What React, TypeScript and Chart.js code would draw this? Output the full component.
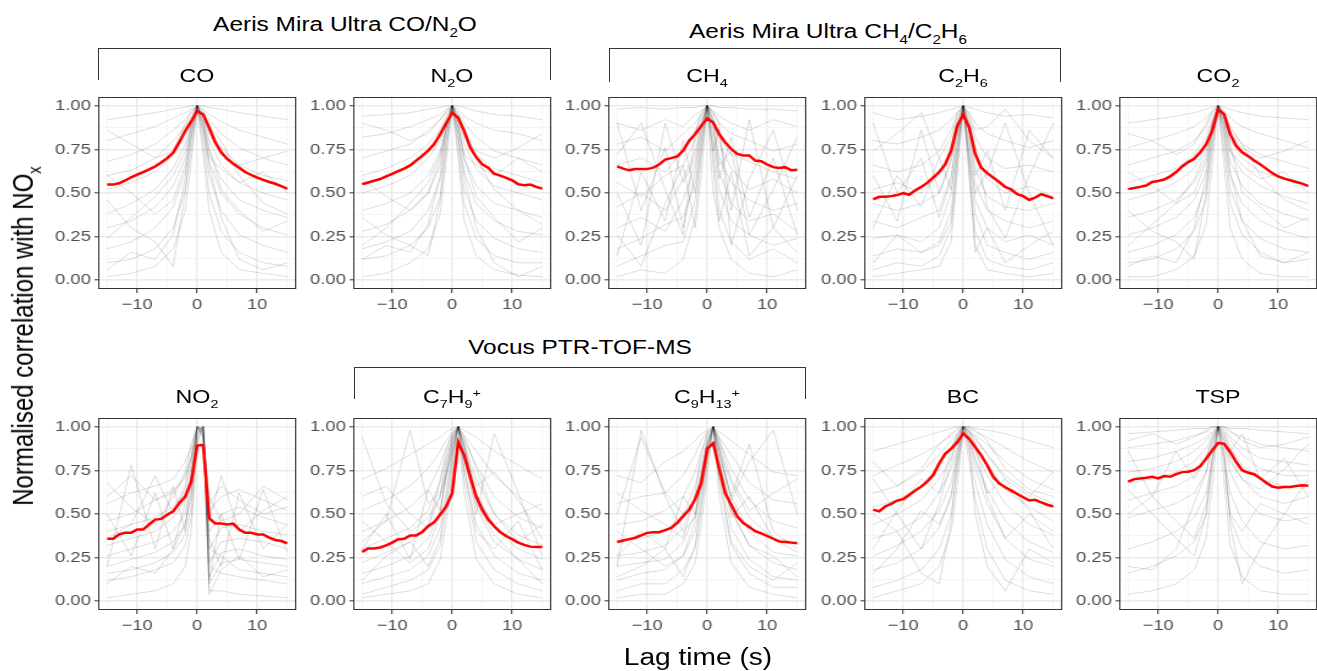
import React, { useEffect, useRef } from "react";
import { Chart, registerables } from "chart.js";

Chart.register(...registerables);
Chart.defaults.font.family = "'Liberation Sans', Arial, Helvetica, sans-serif";

// ---------- data ----------
const LAGS = [-15, -14, -13, -12, -11, -10, -9, -8, -7, -6, -5, -4, -3, -2, -1, 0, 1, 2, 3, 4, 5, 6, 7, 8, 9, 10, 11, 12, 13, 14, 15];
const GRAY_LAGS = [-15, -11, -7, -4, -2, -1, 0, 1, 2, 4, 7, 11, 15];
const X_TICKS = [-15, -10, -5, 0, 5, 10, 15];
const X_LABELED = [-10, 0, 10];
const Y_TICKS = [0, 0.125, 0.25, 0.375, 0.5, 0.625, 0.75, 0.875, 1];
const Y_LABELED = [0, 0.25, 0.5, 0.75, 1];

const PANEL_LABELS = ["CO", "N_{2}O", "CH_{4}", "C_{2}H_{6}", "CO_{2}", "NO_{2}", "C_{7}H_{9}^{+}", "C_{9}H_{13}^{+}", "BC", "TSP"];
const GROUP_LABELS = ["Aeris Mira Ultra CO/N_{2}O", "Aeris Mira Ultra CH_{4}/C_{2}H_{6}", "Vocus PTR-TOF-MS"];
const Y_TITLE = "Normalised correlation with NO_{x}";
const X_TITLE = "Lag time (s)";

const CO_MEAN = [0.548, 0.548, 0.556, 0.572, 0.59, 0.605, 0.62, 0.635, 0.652, 0.675, 0.7, 0.73, 0.79, 0.855, 0.91, 0.97, 0.95, 0.875, 0.79, 0.733, 0.695, 0.667, 0.645, 0.62, 0.603, 0.588, 0.575, 0.563, 0.553, 0.54, 0.524];
const N2O_MEAN = [0.55, 0.56, 0.57, 0.58, 0.595, 0.61, 0.625, 0.64, 0.658, 0.686, 0.713, 0.743, 0.78, 0.837, 0.9, 0.96, 0.93, 0.856, 0.76, 0.705, 0.664, 0.645, 0.61, 0.6, 0.586, 0.573, 0.55, 0.545, 0.548, 0.535, 0.525];
const CH4_MEAN = [0.652, 0.64, 0.63, 0.637, 0.637, 0.637, 0.645, 0.663, 0.692, 0.7, 0.709, 0.743, 0.8, 0.837, 0.885, 0.928, 0.904, 0.837, 0.79, 0.752, 0.724, 0.715, 0.715, 0.686, 0.682, 0.663, 0.648, 0.643, 0.648, 0.63, 0.633];
const C2H6_MEAN = [0.463, 0.478, 0.478, 0.482, 0.488, 0.5, 0.49, 0.515, 0.535, 0.558, 0.588, 0.62, 0.664, 0.743, 0.885, 0.95, 0.875, 0.724, 0.645, 0.614, 0.588, 0.563, 0.535, 0.52, 0.493, 0.482, 0.46, 0.474, 0.493, 0.482, 0.469];
const CO2_MEAN = [0.522, 0.529, 0.535, 0.543, 0.563, 0.569, 0.577, 0.595, 0.62, 0.652, 0.677, 0.696, 0.733, 0.78, 0.856, 0.98, 0.95, 0.837, 0.77, 0.733, 0.711, 0.686, 0.664, 0.64, 0.614, 0.595, 0.582, 0.573, 0.563, 0.554, 0.54];
const NO2_MEAN = [0.358, 0.358, 0.383, 0.392, 0.392, 0.411, 0.411, 0.44, 0.468, 0.472, 0.496, 0.515, 0.562, 0.6, 0.685, 0.892, 0.896, 0.477, 0.445, 0.445, 0.44, 0.445, 0.411, 0.392, 0.392, 0.383, 0.383, 0.364, 0.351, 0.345, 0.332];
const C7H9_MEAN = [0.283, 0.302, 0.302, 0.308, 0.32, 0.336, 0.355, 0.358, 0.377, 0.377, 0.396, 0.43, 0.453, 0.496, 0.543, 0.619, 0.911, 0.836, 0.713, 0.6, 0.525, 0.468, 0.43, 0.396, 0.374, 0.355, 0.336, 0.323, 0.313, 0.311, 0.311];
const C9H13_MEAN = [0.34, 0.348, 0.356, 0.364, 0.378, 0.392, 0.396, 0.396, 0.408, 0.42, 0.449, 0.487, 0.525, 0.585, 0.675, 0.874, 0.906, 0.76, 0.619, 0.553, 0.487, 0.449, 0.426, 0.402, 0.389, 0.374, 0.358, 0.342, 0.34, 0.336, 0.332];
const BC_MEAN = [0.525, 0.515, 0.543, 0.558, 0.577, 0.585, 0.609, 0.634, 0.657, 0.685, 0.723, 0.789, 0.845, 0.874, 0.911, 0.962, 0.93, 0.883, 0.836, 0.779, 0.713, 0.675, 0.653, 0.634, 0.615, 0.596, 0.577, 0.581, 0.566, 0.553, 0.543];
const TSP_MEAN = [0.685, 0.7, 0.704, 0.708, 0.713, 0.704, 0.717, 0.713, 0.728, 0.74, 0.742, 0.751, 0.774, 0.817, 0.864, 0.908, 0.902, 0.855, 0.798, 0.751, 0.736, 0.728, 0.704, 0.679, 0.657, 0.651, 0.655, 0.655, 0.66, 0.664, 0.662];

const CO_LINES = [
  [0.92, 0.94, 0.96, 0.98, 0.99, 1, 1, 1, 0.99, 0.98, 0.96, 0.94, 0.92],
  [0.8, 0.84, 0.88, 0.93, 0.96, 0.98, 1, 0.98, 0.95, 0.91, 0.86, 0.82, 0.78],
  [0.68, 0.72, 0.78, 0.86, 0.92, 0.96, 1, 0.97, 0.92, 0.84, 0.76, 0.7, 0.66],
  [0.6, 0.63, 0.7, 0.8, 0.88, 0.94, 1, 0.95, 0.86, 0.76, 0.66, 0.6, 0.57],
  [0.52, 0.56, 0.62, 0.72, 0.84, 0.92, 1, 0.93, 0.8, 0.66, 0.56, 0.5, 0.46],
  [0.38, 0.44, 0.52, 0.64, 0.78, 0.9, 1, 0.9, 0.74, 0.58, 0.46, 0.4, 0.36],
  [0.3, 0.34, 0.42, 0.54, 0.7, 0.86, 1, 0.88, 0.68, 0.5, 0.38, 0.3, 0.26],
  [0.18, 0.22, 0.3, 0.42, 0.62, 0.8, 1, 0.84, 0.6, 0.4, 0.26, 0.2, 0.16],
  [0.1, 0.12, 0.18, 0.3, 0.52, 0.74, 1, 0.78, 0.5, 0.28, 0.16, 0.1, 0.08],
  [0.02, 0.04, 0.08, 0.18, 0.4, 0.68, 1, 0.72, 0.4, 0.16, 0.06, 0.04, 0.02],
  [0.46, 0.3, 0.22, 0.08, 0.5, 0.82, 1, 0.9, 0.7, 0.64, 0.56, 0.62, 0.5],
  [0.86, 0.78, 0.7, 0.74, 0.9, 0.97, 1, 0.96, 0.88, 0.8, 0.6, 0.44, 0.38],
  [0.24, 0.36, 0.48, 0.6, 0.74, 0.88, 1, 0.94, 0.84, 0.72, 0.66, 0.7, 0.74],
  [0.6, 0.5, 0.38, 0.46, 0.66, 0.84, 1, 0.86, 0.66, 0.36, 0.12, 0.06, 0.1],
  [0.06, 0.16, 0.12, 0.26, 0.58, 0.9, 1, 0.92, 0.76, 0.52, 0.4, 0.28, 0.34],
];
const N2O_LINES = [
  [0.94, 0.95, 0.96, 0.98, 0.99, 1, 1, 1, 0.99, 0.97, 0.95, 0.94, 0.92],
  [0.82, 0.84, 0.88, 0.92, 0.95, 0.98, 1, 0.98, 0.94, 0.9, 0.86, 0.84, 0.8],
  [0.7, 0.74, 0.78, 0.86, 0.92, 0.96, 1, 0.96, 0.9, 0.82, 0.74, 0.7, 0.66],
  [0.6, 0.64, 0.7, 0.78, 0.86, 0.94, 1, 0.94, 0.84, 0.72, 0.64, 0.6, 0.56],
  [0.5, 0.54, 0.6, 0.7, 0.8, 0.92, 1, 0.92, 0.78, 0.64, 0.54, 0.5, 0.46],
  [0.4, 0.44, 0.5, 0.6, 0.74, 0.88, 1, 0.88, 0.7, 0.54, 0.44, 0.4, 0.36],
  [0.28, 0.32, 0.4, 0.5, 0.66, 0.84, 1, 0.84, 0.62, 0.44, 0.34, 0.28, 0.26],
  [0.18, 0.22, 0.28, 0.4, 0.58, 0.8, 1, 0.8, 0.52, 0.34, 0.24, 0.18, 0.16],
  [0.12, 0.14, 0.2, 0.3, 0.48, 0.74, 1, 0.76, 0.44, 0.24, 0.14, 0.1, 0.1],
  [0.02, 0.04, 0.1, 0.18, 0.38, 0.68, 1, 0.7, 0.34, 0.14, 0.06, 0.03, 0.02],
  [0.36, 0.26, 0.2, 0.14, 0.46, 0.8, 1, 0.88, 0.72, 0.66, 0.6, 0.7, 0.62],
  [0.9, 0.86, 0.8, 0.84, 0.92, 0.97, 1, 0.95, 0.86, 0.7, 0.52, 0.4, 0.32],
  [0.2, 0.3, 0.44, 0.56, 0.72, 0.88, 1, 0.92, 0.82, 0.74, 0.7, 0.76, 0.84],
  [0.58, 0.48, 0.4, 0.5, 0.7, 0.86, 1, 0.84, 0.6, 0.3, 0.1, 0.02, 0.08],
  [0.12, 0.2, 0.16, 0.32, 0.6, 0.88, 1, 0.9, 0.7, 0.48, 0.36, 0.22, 0.3],
];
const CH4_LINES = [
  [0.98, 0.99, 0.98, 0.99, 0.99, 1, 1, 1, 0.99, 0.99, 0.98, 0.98, 0.97],
  [0.9, 0.86, 0.92, 0.88, 0.95, 0.97, 1, 0.97, 0.94, 0.9, 0.86, 0.92, 0.88],
  [0.78, 0.82, 0.74, 0.84, 0.9, 0.95, 1, 0.96, 0.9, 0.84, 0.8, 0.74, 0.78],
  [0.66, 0.7, 0.62, 0.74, 0.86, 0.93, 1, 0.92, 0.82, 0.72, 0.68, 0.62, 0.58],
  [0.56, 0.48, 0.6, 0.66, 0.8, 0.9, 1, 0.9, 0.78, 0.64, 0.52, 0.58, 0.5],
  [0.42, 0.5, 0.4, 0.58, 0.74, 0.88, 1, 0.86, 0.7, 0.56, 0.46, 0.4, 0.44],
  [0.3, 0.36, 0.28, 0.46, 0.66, 0.84, 1, 0.82, 0.62, 0.44, 0.34, 0.38, 0.28],
  [0.18, 0.24, 0.32, 0.36, 0.56, 0.8, 1, 0.78, 0.52, 0.34, 0.26, 0.2, 0.24],
  [0.08, 0.14, 0.2, 0.22, 0.46, 0.74, 1, 0.72, 0.4, 0.22, 0.12, 0.18, 0.1],
  [0.02, 0.06, 0.04, 0.12, 0.36, 0.7, 1, 0.66, 0.3, 0.12, 0.04, 0.02, 0.06],
  [0.9, 0.4, 0.76, 0.3, 0.62, 0.86, 1, 0.9, 0.58, 0.82, 0.36, 0.7, 0.26],
  [0.14, 0.62, 0.34, 0.8, 0.5, 0.78, 1, 0.74, 0.86, 0.4, 0.92, 0.3, 0.6],
  [0.5, 0.2, 0.9, 0.56, 0.7, 0.9, 1, 0.94, 0.66, 0.74, 0.26, 0.52, 0.82],
  [0.72, 0.9, 0.52, 0.26, 0.84, 0.96, 1, 0.96, 0.9, 0.2, 0.58, 0.86, 0.4],
  [0.26, 0.08, 0.44, 0.66, 0.3, 0.6, 1, 0.5, 0.34, 0.62, 0.14, 0.3, 0.16],
];
const C2H6_LINES = [
  [0.96, 0.92, 0.94, 0.96, 0.98, 0.99, 1, 0.99, 0.98, 0.96, 0.94, 0.95, 0.93],
  [0.8, 0.78, 0.82, 0.86, 0.92, 0.96, 1, 0.96, 0.9, 0.84, 0.8, 0.76, 0.8],
  [0.66, 0.62, 0.66, 0.74, 0.86, 0.94, 1, 0.93, 0.82, 0.7, 0.64, 0.66, 0.62],
  [0.52, 0.56, 0.5, 0.6, 0.76, 0.9, 1, 0.9, 0.72, 0.58, 0.5, 0.54, 0.48],
  [0.44, 0.4, 0.44, 0.5, 0.68, 0.86, 1, 0.86, 0.64, 0.48, 0.42, 0.4, 0.44],
  [0.34, 0.3, 0.36, 0.4, 0.6, 0.82, 1, 0.8, 0.56, 0.4, 0.34, 0.3, 0.34],
  [0.24, 0.26, 0.22, 0.3, 0.5, 0.78, 1, 0.76, 0.46, 0.3, 0.22, 0.26, 0.2],
  [0.14, 0.18, 0.16, 0.22, 0.4, 0.72, 1, 0.7, 0.38, 0.2, 0.16, 0.12, 0.16],
  [0.06, 0.1, 0.08, 0.14, 0.3, 0.66, 1, 0.64, 0.28, 0.12, 0.08, 0.06, 0.1],
  [0.02, 0.04, 0.06, 0.08, 0.22, 0.6, 1, 0.58, 0.2, 0.06, 0.04, 0.02, 0.04],
  [0.9, 0.5, 0.7, 0.36, 0.58, 0.84, 1, 0.86, 0.6, 0.74, 0.4, 0.86, 0.7],
  [0.3, 0.6, 0.42, 0.7, 0.52, 0.76, 1, 0.72, 0.5, 0.62, 0.9, 0.5, 0.2],
  [0.6, 0.34, 0.86, 0.5, 0.7, 0.92, 1, 0.9, 0.78, 0.42, 0.24, 0.6, 0.9],
  [0.1, 0.26, 0.16, 0.2, 0.34, 0.7, 1, 0.66, 0.16, 0.3, 0.1, 0.2, 0.28],
  [0.74, 0.84, 0.96, 0.7, 0.82, 0.96, 1, 0.95, 0.86, 0.88, 0.98, 0.8, 0.7],
];
const CO2_LINES = [
  [0.9, 0.92, 0.94, 0.96, 0.98, 0.99, 1, 0.99, 0.98, 0.96, 0.94, 0.93, 0.92],
  [0.76, 0.8, 0.84, 0.88, 0.93, 0.97, 1, 0.97, 0.93, 0.88, 0.84, 0.8, 0.76],
  [0.66, 0.7, 0.74, 0.8, 0.88, 0.95, 1, 0.95, 0.86, 0.78, 0.72, 0.68, 0.64],
  [0.56, 0.6, 0.64, 0.72, 0.82, 0.92, 1, 0.93, 0.8, 0.7, 0.62, 0.58, 0.54],
  [0.46, 0.5, 0.56, 0.64, 0.76, 0.9, 1, 0.9, 0.74, 0.62, 0.54, 0.48, 0.44],
  [0.36, 0.4, 0.46, 0.56, 0.7, 0.86, 1, 0.88, 0.68, 0.54, 0.44, 0.38, 0.34],
  [0.26, 0.3, 0.36, 0.46, 0.62, 0.82, 1, 0.84, 0.6, 0.44, 0.34, 0.28, 0.24],
  [0.16, 0.2, 0.26, 0.36, 0.54, 0.78, 1, 0.8, 0.52, 0.34, 0.24, 0.18, 0.16],
  [0.1, 0.12, 0.18, 0.28, 0.46, 0.74, 1, 0.74, 0.44, 0.26, 0.16, 0.1, 0.12],
  [0.02, 0.02, 0.06, 0.14, 0.32, 0.66, 1, 0.66, 0.3, 0.12, 0.04, 0.02, 0.02],
  [0.4, 0.28, 0.22, 0.12, 0.5, 0.84, 1, 0.9, 0.74, 0.66, 0.58, 0.62, 0.5],
  [0.84, 0.8, 0.72, 0.78, 0.9, 0.97, 1, 0.96, 0.88, 0.78, 0.6, 0.46, 0.4],
  [0.2, 0.32, 0.44, 0.58, 0.74, 0.9, 1, 0.94, 0.84, 0.76, 0.7, 0.74, 0.8],
  [0.62, 0.54, 0.44, 0.5, 0.68, 0.88, 1, 0.86, 0.62, 0.34, 0.14, 0.1, 0.16],
  [0.08, 0.14, 0.1, 0.3, 0.6, 0.9, 1, 0.92, 0.78, 0.5, 0.42, 0.3, 0.36],
];
const NO2_LINES = [
  [0.56, 0.62, 0.66, 0.7, 0.8, 0.88, 1, 1, 0.52, 0.6, 0.64, 0.58, 0.52],
  [0.46, 0.5, 0.58, 0.62, 0.72, 0.82, 0.98, 1, 0.4, 0.5, 0.54, 0.48, 0.44],
  [0.4, 0.44, 0.48, 0.54, 0.64, 0.78, 1, 0.98, 0.3, 0.42, 0.44, 0.4, 0.38],
  [0.32, 0.36, 0.4, 0.48, 0.58, 0.72, 0.96, 1, 0.22, 0.34, 0.36, 0.34, 0.3],
  [0.26, 0.3, 0.34, 0.4, 0.5, 0.66, 1, 0.96, 0.14, 0.28, 0.3, 0.26, 0.24],
  [0.2, 0.24, 0.28, 0.34, 0.44, 0.6, 0.94, 1, 0.1, 0.22, 0.24, 0.22, 0.2],
  [0.16, 0.18, 0.22, 0.28, 0.38, 0.54, 1, 0.94, 0.3, 0.26, 0.18, 0.16, 0.14],
  [0.12, 0.14, 0.18, 0.22, 0.32, 0.48, 0.92, 1, 0.2, 0.16, 0.14, 0.12, 0.1],
  [0.6, 0.72, 0.58, 0.64, 0.7, 0.82, 1, 0.98, 0.56, 0.66, 0.58, 0.5, 0.54],
  [0.02, 0.04, 0.06, 0.1, 0.2, 0.4, 0.9, 1, 0.06, 0.06, 0.04, 0.03, 0.02],
  [0.2, 0.78, 0.3, 0.66, 0.4, 0.76, 1, 0.98, 0.12, 0.5, 0.24, 0.64, 0.28],
  [0.5, 0.26, 0.62, 0.3, 0.56, 0.7, 0.96, 1, 0.36, 0.2, 0.62, 0.3, 0.44],
  [0.36, 0.44, 0.72, 0.5, 0.66, 0.84, 1, 0.96, 0.46, 0.72, 0.4, 0.52, 0.6],
  [0.1, 0.2, 0.16, 0.3, 0.44, 0.62, 0.98, 1, 0.04, 0.18, 0.26, 0.14, 0.18],
  [0.68, 0.54, 0.44, 0.6, 0.74, 0.9, 1, 0.94, 0.6, 0.46, 0.5, 0.66, 0.58],
];
const C7H9_LINES = [
  [0.7, 0.76, 0.84, 0.9, 0.94, 0.97, 0.99, 1, 0.98, 0.94, 0.86, 0.78, 0.7],
  [0.52, 0.58, 0.66, 0.76, 0.86, 0.92, 0.97, 1, 0.95, 0.86, 0.72, 0.6, 0.52],
  [0.4, 0.46, 0.54, 0.64, 0.78, 0.88, 0.95, 1, 0.93, 0.78, 0.6, 0.48, 0.42],
  [0.3, 0.36, 0.42, 0.52, 0.68, 0.82, 0.93, 1, 0.9, 0.7, 0.5, 0.38, 0.32],
  [0.22, 0.28, 0.34, 0.44, 0.6, 0.76, 0.9, 1, 0.86, 0.62, 0.42, 0.3, 0.24],
  [0.16, 0.2, 0.26, 0.36, 0.52, 0.7, 0.86, 1, 0.82, 0.54, 0.34, 0.24, 0.18],
  [0.1, 0.14, 0.18, 0.26, 0.42, 0.62, 0.82, 1, 0.76, 0.44, 0.26, 0.16, 0.12],
  [0.04, 0.08, 0.12, 0.18, 0.32, 0.54, 0.78, 1, 0.7, 0.34, 0.18, 0.1, 0.06],
  [0.02, 0.04, 0.06, 0.1, 0.24, 0.46, 0.72, 1, 0.62, 0.24, 0.1, 0.04, 0.02],
  [0.34, 0.46, 0.98, 0.56, 0.62, 0.72, 0.86, 1, 0.88, 0.66, 0.74, 0.58, 0.36],
  [0.94, 0.56, 0.4, 0.48, 0.6, 0.8, 0.94, 1, 0.9, 0.6, 0.44, 0.5, 0.56],
  [0.3, 0.5, 0.24, 0.64, 0.52, 0.74, 0.9, 1, 0.84, 0.5, 0.96, 0.62, 0.26],
  [0.6, 0.66, 0.5, 0.42, 0.7, 0.86, 0.96, 1, 0.94, 0.76, 0.5, 0.34, 0.44],
  [0.12, 0.26, 0.34, 0.2, 0.36, 0.58, 0.84, 1, 0.76, 0.4, 0.3, 0.46, 0.18],
  [0.46, 0.34, 0.22, 0.3, 0.5, 0.72, 0.92, 1, 0.9, 0.56, 0.38, 0.24, 0.1],
];
const C9H13_LINES = [
  [0.72, 0.68, 0.8, 0.86, 0.92, 0.96, 0.98, 1, 0.97, 0.92, 0.84, 0.74, 0.72],
  [0.56, 0.6, 0.62, 0.72, 0.84, 0.92, 0.97, 1, 0.94, 0.84, 0.68, 0.58, 0.56],
  [0.44, 0.46, 0.52, 0.6, 0.74, 0.86, 0.95, 1, 0.92, 0.76, 0.58, 0.46, 0.42],
  [0.34, 0.36, 0.4, 0.5, 0.66, 0.8, 0.92, 1, 0.88, 0.68, 0.48, 0.36, 0.34],
  [0.26, 0.28, 0.32, 0.42, 0.58, 0.74, 0.9, 1, 0.84, 0.6, 0.4, 0.28, 0.26],
  [0.2, 0.22, 0.24, 0.34, 0.5, 0.68, 0.86, 1, 0.8, 0.52, 0.32, 0.22, 0.18],
  [0.12, 0.16, 0.18, 0.26, 0.4, 0.6, 0.82, 1, 0.74, 0.42, 0.24, 0.14, 0.12],
  [0.06, 0.1, 0.1, 0.18, 0.3, 0.52, 0.78, 1, 0.68, 0.32, 0.16, 0.08, 0.08],
  [0.02, 0.04, 0.04, 0.1, 0.22, 0.44, 0.72, 1, 0.6, 0.22, 0.08, 0.04, 0.02],
  [0.2, 0.98, 0.6, 0.4, 0.48, 0.64, 0.84, 1, 0.86, 0.6, 0.9, 0.4, 0.3],
  [0.5, 0.94, 0.62, 0.5, 0.58, 0.74, 0.9, 1, 0.9, 0.58, 0.8, 0.98, 0.5],
  [0.26, 0.4, 0.3, 0.6, 0.5, 0.7, 0.88, 1, 0.82, 0.48, 0.6, 0.36, 0.28],
  [0.62, 0.52, 0.44, 0.36, 0.62, 0.84, 0.96, 1, 0.93, 0.7, 0.52, 0.62, 0.7],
  [0.14, 0.2, 0.3, 0.14, 0.32, 0.56, 0.82, 1, 0.72, 0.34, 0.2, 0.12, 0.22],
  [0.4, 0.3, 0.2, 0.26, 0.46, 0.7, 0.9, 1, 0.88, 0.52, 0.32, 0.26, 0.14],
];
const BC_LINES = [
  [0.86, 0.9, 0.94, 0.97, 0.99, 1, 1, 1, 0.99, 0.98, 0.96, 0.92, 0.88],
  [0.72, 0.78, 0.84, 0.9, 0.95, 0.98, 1, 0.99, 0.97, 0.94, 0.88, 0.8, 0.74],
  [0.62, 0.66, 0.74, 0.84, 0.92, 0.96, 1, 0.98, 0.95, 0.9, 0.8, 0.7, 0.64],
  [0.54, 0.58, 0.66, 0.78, 0.88, 0.94, 1, 0.97, 0.93, 0.84, 0.72, 0.62, 0.56],
  [0.44, 0.5, 0.58, 0.7, 0.82, 0.92, 1, 0.96, 0.9, 0.78, 0.64, 0.54, 0.46],
  [0.36, 0.4, 0.48, 0.62, 0.76, 0.88, 1, 0.95, 0.86, 0.72, 0.56, 0.44, 0.38],
  [0.26, 0.32, 0.4, 0.52, 0.68, 0.84, 1, 0.93, 0.82, 0.64, 0.46, 0.34, 0.28],
  [0.18, 0.22, 0.3, 0.42, 0.6, 0.8, 1, 0.9, 0.76, 0.56, 0.36, 0.24, 0.2],
  [0.08, 0.12, 0.18, 0.3, 0.5, 0.74, 1, 0.86, 0.68, 0.44, 0.24, 0.14, 0.1],
  [0.02, 0.06, 0.1, 0.2, 0.4, 0.66, 1, 0.8, 0.58, 0.3, 0.12, 0.06, 0.04],
  [0.7, 0.5, 0.3, 0.56, 0.8, 0.94, 1, 0.98, 0.9, 0.6, 0.36, 0.5, 0.4],
  [0.3, 0.52, 0.7, 0.62, 0.86, 0.96, 1, 0.97, 0.94, 0.84, 0.7, 0.6, 0.74],
  [0.5, 0.4, 0.16, 0.1, 0.46, 0.78, 1, 0.9, 0.5, 0.2, 0.06, 0.3, 0.22],
  [0.8, 0.66, 0.76, 0.9, 0.96, 0.99, 1, 1, 0.98, 0.92, 0.76, 0.64, 0.6],
  [0.16, 0.3, 0.52, 0.44, 0.6, 0.86, 1, 0.94, 0.8, 0.62, 0.7, 0.52, 0.3],
];
const TSP_LINES = [
  [0.96, 0.97, 0.98, 0.99, 0.99, 1, 1, 1, 0.99, 0.99, 0.98, 0.97, 0.96],
  [0.88, 0.9, 0.92, 0.95, 0.97, 0.99, 1, 0.99, 0.97, 0.94, 0.9, 0.88, 0.86],
  [0.8, 0.82, 0.86, 0.9, 0.94, 0.97, 1, 0.98, 0.94, 0.88, 0.82, 0.8, 0.78],
  [0.74, 0.76, 0.8, 0.86, 0.92, 0.96, 1, 0.97, 0.92, 0.84, 0.76, 0.72, 0.72],
  [0.68, 0.7, 0.74, 0.8, 0.88, 0.94, 1, 0.95, 0.88, 0.78, 0.7, 0.66, 0.66],
  [0.58, 0.62, 0.66, 0.72, 0.82, 0.92, 1, 0.93, 0.82, 0.7, 0.6, 0.56, 0.6],
  [0.48, 0.52, 0.56, 0.62, 0.74, 0.88, 1, 0.9, 0.74, 0.6, 0.5, 0.46, 0.48],
  [0.3, 0.34, 0.4, 0.48, 0.62, 0.82, 1, 0.84, 0.62, 0.46, 0.34, 0.3, 0.32],
  [0.16, 0.2, 0.26, 0.34, 0.5, 0.76, 1, 0.78, 0.48, 0.3, 0.2, 0.16, 0.18],
  [0.04, 0.06, 0.1, 0.18, 0.36, 0.66, 1, 0.68, 0.32, 0.14, 0.06, 0.04, 0.04],
  [0.5, 0.6, 0.86, 0.7, 0.82, 0.94, 1, 0.96, 0.86, 0.96, 0.7, 0.82, 0.6],
  [0.86, 0.6, 0.46, 0.36, 0.56, 0.82, 1, 0.86, 0.44, 0.1, 0.3, 0.5, 0.7],
  [0.2, 0.18, 0.3, 0.56, 0.74, 0.9, 1, 0.92, 0.8, 0.7, 0.64, 0.76, 0.9],
  [0.92, 0.96, 0.9, 0.94, 0.98, 1, 1, 1, 0.98, 0.92, 0.88, 0.9, 0.94],
  [0.64, 0.5, 0.36, 0.26, 0.5, 0.8, 1, 0.82, 0.5, 0.4, 0.56, 0.5, 0.44],
];

const PANEL_MEANS = [CO_MEAN, N2O_MEAN, CH4_MEAN, C2H6_MEAN, CO2_MEAN, NO2_MEAN, C7H9_MEAN, C9H13_MEAN, BC_MEAN, TSP_MEAN];
const PANEL_LINES = [CO_LINES, N2O_LINES, CH4_LINES, C2H6_LINES, CO2_LINES, NO2_LINES, C7H9_LINES, C9H13_LINES, BC_LINES, TSP_LINES];

// ---------- layout ----------
const COL_LEFT = [98, 353.5, 608.5, 864, 1119];
const ROW_TOP = [95, 416];
const STRETCH = 1.2222; // reference is horizontally wider than its font proportions
const IN_PAD_L = 50;
const IN_PLOT_W = 162;
const IN_PAD_R = 8;
const PLOT_H = 194;
const PAD_T = 10;
const PAD_B = 30;
const FONT = "'Liberation Sans', Arial, Helvetica, sans-serif";

function Rich({ text }: { text: string }) {
  const parts = text.split(/(_\{[^}]*\}|\^\{[^}]*\})/).filter((p) => p.length > 0);
  return (
    <>
      {parts.map((p, i) => {
        if (p.startsWith("_{")) {
          return (
            <span key={i} style={{ fontSize: "0.62em", position: "relative", top: "0.45em" }}>
              {p.slice(2, -1)}
            </span>
          );
        }
        if (p.startsWith("^{")) {
          return (
            <span key={i} style={{ fontSize: "0.62em", position: "relative", top: "-0.55em" }}>
              {p.slice(2, -1)}
            </span>
          );
        }
        return <span key={i}>{p}</span>;
      })}
    </>
  );
}

const borderPlugin = {
  id: "panelBorder",
  afterDraw(chart: any) {
    const { ctx, chartArea } = chart;
    const { left, top, right, bottom } = chartArea;
    ctx.save();
    ctx.strokeStyle = "#333333";
    ctx.lineWidth = 1;
    ctx.strokeRect(Math.round(left) + 0.5, Math.round(top) + 0.5, Math.round(right - left) - 1, Math.round(bottom - top) - 1);
    ctx.restore();
  },
};

function Panel({ index }: { index: number }) {
  const ref = useRef<HTMLCanvasElement | null>(null);
  const col = index % 5;
  const row = Math.floor(index / 5);
  const inW = IN_PAD_L + IN_PLOT_W + IN_PAD_R;
  const h = PAD_T + PLOT_H + PAD_B;
  const cssW = inW * STRETCH;
  const left = COL_LEFT[col] - IN_PAD_L * STRETCH;
  const top = ROW_TOP[row] - PAD_T;

  useEffect(() => {
    if (!ref.current) return;
    const mean = PANEL_MEANS[index];
    const lines = PANEL_LINES[index];
    const datasets: any[] = [
      {
        data: LAGS.map((x, i) => ({ x, y: mean[i] })),
        borderColor: "#ff0000",
        borderWidth: 2.5,
        pointRadius: 0,
        order: 0,
      },
      ...lines.map((l) => ({
        data: GRAY_LAGS.map((x, i) => ({ x, y: l[i] })),
        borderColor: "rgba(0,0,0,0.2)",
        borderWidth: 0.7,
        pointRadius: 0,
        order: 1,
      })),
    ];
    const isMajorX = (v: number) => X_LABELED.includes(v);
    const isMajorY = (v: number) => Y_LABELED.includes(v);
    const chart = new Chart(ref.current, {
      type: "line",
      data: { datasets },
      plugins: [borderPlugin],
      options: {
        responsive: false,
        animation: false,
        events: [],
        layout: { padding: { top: PAD_T, right: IN_PAD_R, left: 0, bottom: 0 } },
        plugins: { legend: { display: false }, tooltip: { enabled: false }, title: { display: false } },
        scales: {
          x: {
            type: "linear",
            min: -16.5,
            max: 16.5,
            afterBuildTicks: (s: any) => {
              s.ticks = X_TICKS.map((v) => ({ value: v }));
            },
            afterFit: (s: any) => {
              s.height = PAD_B;
            },
            ticks: {
              autoSkip: false,
              maxRotation: 0,
              padding: 3,
              color: "#4d4d4d",
              font: { size: 15, family: FONT },
              callback: (v: any) => (isMajorX(v) ? String(v).replace("-", "\u2212") : ""),
            },
            grid: {
              color: (c: any) => (c.tick && isMajorX(c.tick.value) ? "#ebebeb" : "#f4f4f4"),
              lineWidth: (c: any) => (c.tick && isMajorX(c.tick.value) ? 1.4 : 0.8),
              tickColor: (c: any) => (c.tick && isMajorX(c.tick.value) ? "#333333" : "rgba(0,0,0,0)"),
              tickLength: 4,
              tickWidth: 1,
            },
            border: { display: false },
          },
          y: {
            type: "linear",
            min: -0.05,
            max: 1.05,
            afterBuildTicks: (s: any) => {
              s.ticks = Y_TICKS.map((v) => ({ value: v }));
            },
            afterFit: (s: any) => {
              s.width = IN_PAD_L;
            },
            ticks: {
              autoSkip: false,
              padding: 3,
              color: "#4d4d4d",
              font: { size: 15, family: FONT },
              callback: (v: any) => (isMajorY(v) ? Number(v).toFixed(2) : ""),
            },
            grid: {
              color: (c: any) => (c.tick && isMajorY(c.tick.value) ? "#ebebeb" : "#f4f4f4"),
              lineWidth: (c: any) => (c.tick && isMajorY(c.tick.value) ? 1.6 : 0.9),
              tickColor: (c: any) => (c.tick && isMajorY(c.tick.value) ? "#333333" : "rgba(0,0,0,0)"),
              tickLength: 3,
              tickWidth: 1,
            },
            border: { display: false },
          },
        },
      } as any,
    });
    return () => chart.destroy();
  }, [index]);

  return (
    <canvas
      ref={ref}
      width={inW}
      height={h}
      style={{ position: "absolute", left, top, width: cssW, height: h }}
    />
  );
}

const STRIP_Y = [75, 396];
const GROUP_POS = [
  { x: 345, y: 24 },
  { x: 828, y: 31 },
  { x: 580, y: 347 },
];
const BRACKETS = [
  { left: 98, top: 48, width: 453, height: 32 },
  { left: 609, top: 48, width: 452, height: 34 },
  { left: 354, top: 367, width: 452, height: 32 },
];

export default function App() {
  const textStyle = (x: number, y: number, size: number): React.CSSProperties => ({
    position: "absolute",
    left: x,
    top: y,
    transform: `translate(-50%, -50%) scaleX(${STRETCH})`,
    fontSize: size,
    whiteSpace: "nowrap",
    lineHeight: 1,
  });
  return (
    <div
      style={{
        position: "absolute",
        left: 0,
        top: 0,
        width: 1317,
        height: 671,
        overflow: "hidden",
        background: "#ffffff",
        fontFamily: FONT,
        color: "#000",
      }}
    >
      {PANEL_LABELS.map((_, i) => (
        <Panel key={i} index={i} />
      ))}
      {PANEL_LABELS.map((lab, i) => (
        <div key={"s" + i} style={textStyle(COL_LEFT[i % 5] + (IN_PLOT_W * STRETCH) / 2, STRIP_Y[Math.floor(i / 5)], 19)}>
          <Rich text={lab} />
        </div>
      ))}
      {GROUP_LABELS.map((lab, i) => (
        <div key={"g" + i} style={textStyle(GROUP_POS[i].x, GROUP_POS[i].y, 20)}>
          <Rich text={lab} />
        </div>
      ))}
      {BRACKETS.map((b, i) => (
        <div
          key={"b" + i}
          style={{
            position: "absolute",
            left: b.left,
            top: b.top,
            width: b.width,
            height: b.height,
            boxSizing: "border-box",
            borderTop: "1px solid #333",
            borderLeft: "1px solid #333",
            borderRight: "1px solid #333",
          }}
        />
      ))}
      <div
        style={{
          position: "absolute",
          left: 23,
          top: 336,
          transform: `translate(-50%, -50%) rotate(-90deg) scaleY(${STRETCH})`,
          fontSize: 24,
          whiteSpace: "nowrap",
          lineHeight: 1,
        }}
      >
        <Rich text={Y_TITLE} />
      </div>
      <div style={textStyle(698, 657, 23)}>{X_TITLE}</div>
    </div>
  );
}
